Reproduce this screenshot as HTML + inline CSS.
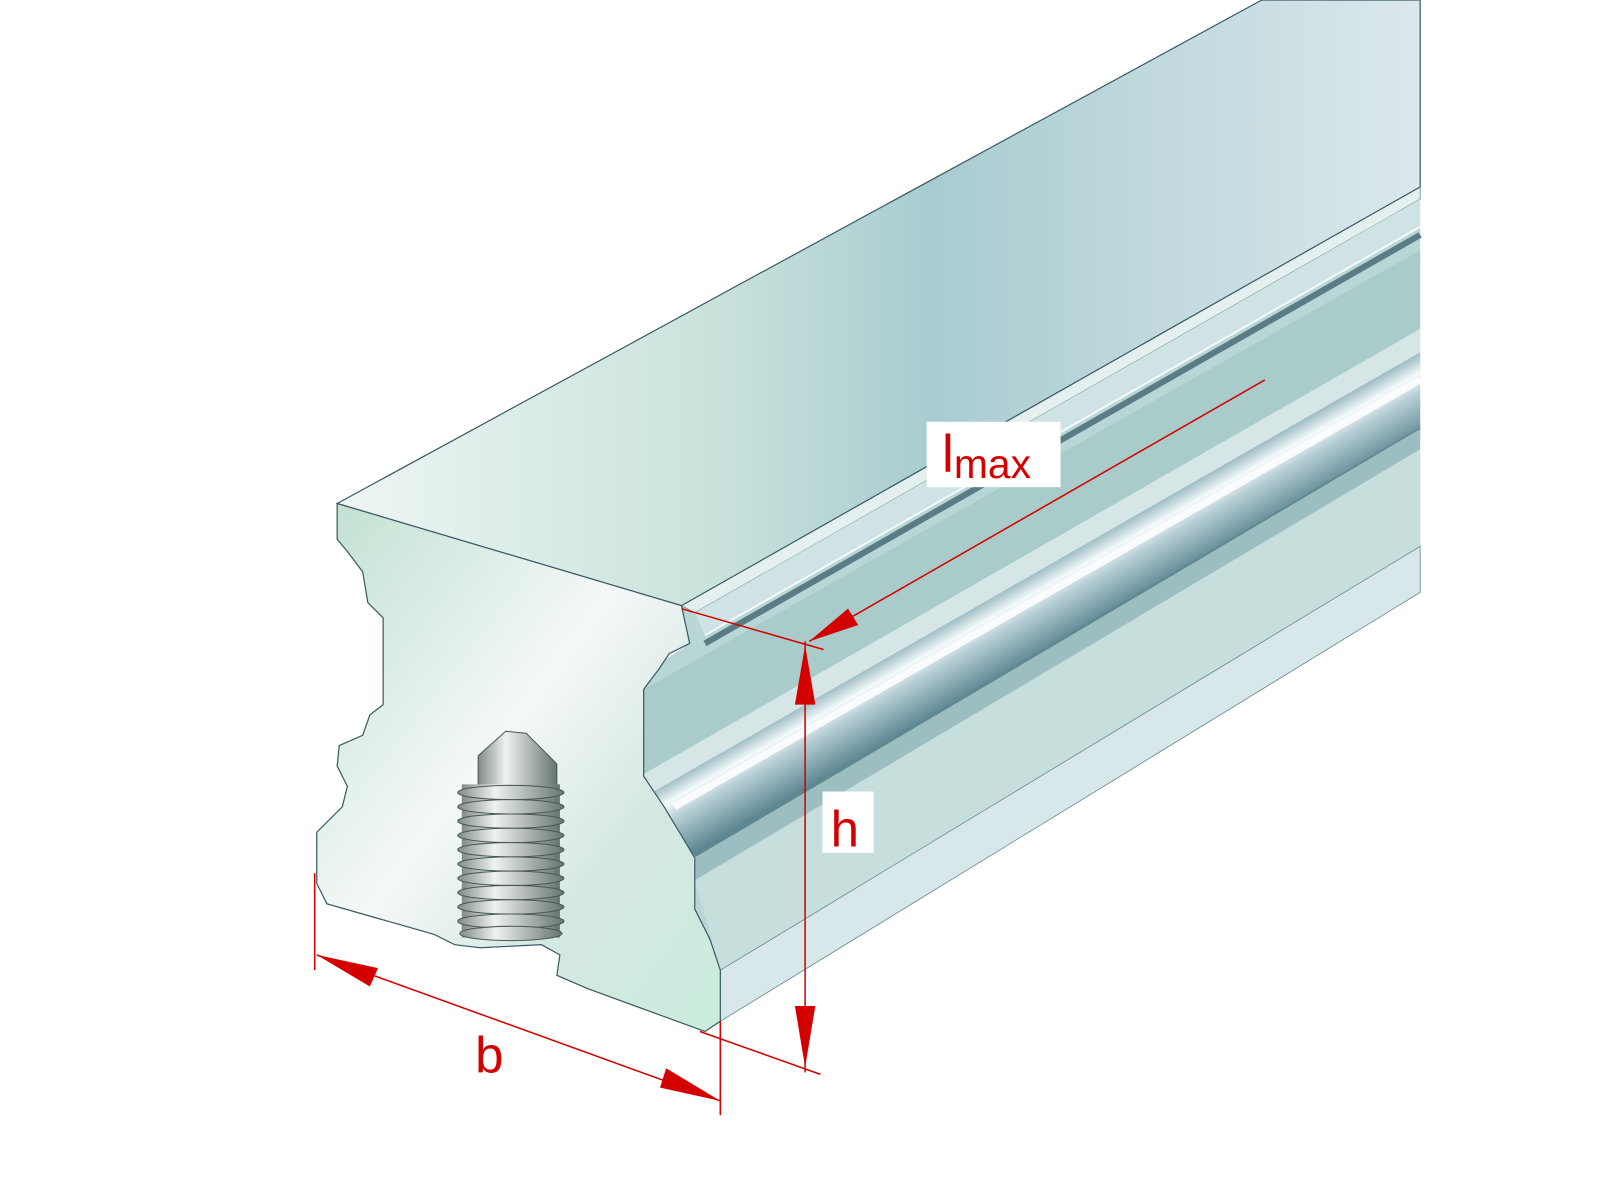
<!DOCTYPE html>
<html><head><meta charset="utf-8"><style>
html,body{margin:0;padding:0;background:#fff;width:1600px;height:1200px;overflow:hidden}
svg{display:block}
</style></head><body>
<svg width="1600" height="1200" viewBox="0 0 1566 1175" preserveAspectRatio="none" xmlns="http://www.w3.org/2000/svg">
<defs>
<linearGradient id="top" x1="0" y1="0" x2="1" y2="0">
<stop offset="0" stop-color="#eef6f4"/><stop offset="0.35" stop-color="#c9e2dc"/><stop offset="0.55" stop-color="#a9ccd0"/><stop offset="1" stop-color="#dbe8ec"/></linearGradient>
<linearGradient id="front" x1="0" y1="0" x2="1" y2="1">
<stop offset="0" stop-color="#bfe0d0"/><stop offset="0.45" stop-color="#f4f8f8"/><stop offset="0.7" stop-color="#d6e8e2"/><stop offset="1" stop-color="#c8ecdc"/></linearGradient>
<linearGradient id="rod" gradientUnits="userSpaceOnUse" x1="1000" y1="560" x2="1040" y2="630">
<stop offset="0" stop-color="#7aa2ac"/><stop offset="0.3" stop-color="#f4fafb"/><stop offset="0.5" stop-color="#b8d0d6"/><stop offset="1" stop-color="#5a8490"/></linearGradient>
<linearGradient id="bolt" x1="0" y1="0" x2="1" y2="0">
<stop offset="0" stop-color="#7e8c88"/><stop offset="0.35" stop-color="#eef2f0"/><stop offset="1" stop-color="#66746f"/></linearGradient>
</defs>
<polygon points="667,593 1390,183 1390,580 705,1000 705,950 680,890 680,840 650,800 630,760 630,675 645,650 675,630" fill="#b9d6d6"/>
<polygon points="667,593 1390,183 1390,195 680,600" fill="#e4f0f0" stroke="#6a8a90" stroke-width="0.8"/>
<polygon points="680,600 1390,195 1390,222 690,622" fill="#cfe3e4"/>
<line x1="690" y1="630" x2="1390" y2="230" stroke="#5a7c84" stroke-width="6"/>
<line x1="690" y1="622" x2="1390" y2="222" stroke="#f4fafa" stroke-width="2"/>
<polygon points="630,675 1390,245 1390,322 630,758" fill="#a9cbc9"/>
<polygon points="630,758 1390,322 1390,345 640,775" fill="#d6e6e6"/>
<!-- rod -->
<polygon points="640,775 1390,345 1390,420 680,838 660,815 650,795" fill="url(#rod)"/>
<line x1="660" y1="790" x2="1390" y2="372" stroke="#ffffff" stroke-width="7" opacity="0.85"/>
<line x1="680" y1="838" x2="1390" y2="420" stroke="#5f8890" stroke-width="3"/>
<polygon points="680,840 1390,420 1390,440 680,862" fill="#9dbec0"/>
<polygon points="680,862 1390,440 1390,535 705,950" fill="#c6dedc"/>
<polygon points="705,950 1390,535 1390,580 705,1000" fill="#d8e8ea" stroke="#6a8a90" stroke-width="0.8"/>
<polygon points="330,493 1235,0 1390,0 1390,183 667,593" fill="url(#top)" stroke="#3c5a64" stroke-width="1.2"/>
<path d="M330,493 L667,593 L675,630 L655,640 L645,655 L630,675 L630,760 L650,790 L665,815 L680,840 L680,890 L695,920 L705,950 L705,1000 L690,1010 L575,968 L545,955 L548,935 L530,925 L470,928 L445,925 L425,915 L320,885 L310,865 L310,815 L335,790 L340,770 L330,750 L332,730 L355,720 L362,700 L375,690 L375,605 L360,590 L355,560 L340,540 L330,528 Z" fill="url(#front)" stroke="#3c5a64" stroke-width="1.2"/>
<!-- bolt -->
<polygon points="468,740 495,716 515,718 545,748 545,775 468,775" fill="url(#bolt)" stroke="#4a5856" stroke-width="1"/>
<rect x="452" y="768" width="96" height="150" fill="url(#bolt)"/>
<g fill="url(#bolt)" stroke="#4a5856" stroke-width="1">
<ellipse cx="500" cy="776" rx="52" ry="7"/><ellipse cx="500" cy="790" rx="52" ry="7"/><ellipse cx="500" cy="804" rx="52" ry="7"/><ellipse cx="500" cy="818" rx="52" ry="7"/><ellipse cx="500" cy="832" rx="52" ry="7"/><ellipse cx="500" cy="846" rx="52" ry="7"/><ellipse cx="500" cy="860" rx="52" ry="7"/><ellipse cx="500" cy="874" rx="52" ry="7"/><ellipse cx="500" cy="888" rx="52" ry="7"/><ellipse cx="500" cy="902" rx="52" ry="7"/><ellipse cx="500" cy="914" rx="50" ry="7"/></g>
<g stroke="#d40000" stroke-width="1.5" fill="none">
<line x1="1238" y1="372" x2="792" y2="628"/>
<line x1="667" y1="596" x2="806" y2="636"/>
<line x1="788" y1="628" x2="788" y2="1050"/>
<line x1="685" y1="1010" x2="803" y2="1052"/>
<line x1="310" y1="935" x2="705" y2="1078"/>
<line x1="308" y1="855" x2="308" y2="950"/>
<line x1="705" y1="1000" x2="705" y2="1092"/>
</g>
<g fill="#d40000">
<polygon points="792,628 830,596 840,612"/>
<polygon points="788,632 778,690 798,690"/>
<polygon points="788,1045 778,985 798,985"/>
<polygon points="310,935 370,948 362,966"/>
<polygon points="705,1078 646,1065 652,1046"/>
</g>
<rect x="907" y="413" width="131" height="64" fill="#fff"/>
<text x="922" y="462" font-family="Liberation Sans, sans-serif" font-size="52" fill="#d40000">l<tspan font-size="40" dy="6">max</tspan></text>
<rect x="805" y="775" width="50" height="60" fill="#fff"/>
<text x="813" y="829" font-family="Liberation Sans, sans-serif" font-size="50" fill="#d40000">h</text>
<text x="465" y="1050" font-family="Liberation Sans, sans-serif" font-size="50" fill="#d40000">b</text>
</svg>
</body></html>
